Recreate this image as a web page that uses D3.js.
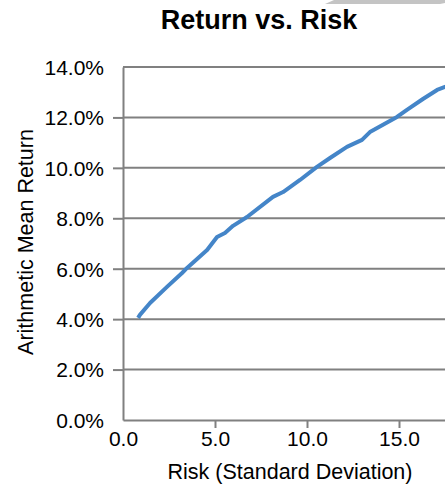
<!DOCTYPE html>
<html>
<head>
<meta charset="utf-8">
<script src="https://cdn.jsdelivr.net/npm/d3@7"></script>
<style>
html,body{margin:0;padding:0;background:#fff;overflow:hidden;}
svg{display:block;}
text{font-family:"Liberation Sans",Arial,sans-serif;fill:#000;}
</style>
</head>
<body>
<svg id="chart" width="445" height="485"></svg>
<script>
const title = "Return vs. Risk";
const xTitle = "Risk (Standard Deviation)";
const yTitle = "Arithmetic Mean Return";
const xTicks = [0, 5, 10, 15];
const yTicks = [0, 0.02, 0.04, 0.06, 0.08, 0.10, 0.12, 0.14];
const risk = [0.82, 0.92, 1.47, 2.39, 3.21, 3.48, 4.57, 5.11, 5.54, 5.98, 6.74, 8.15, 8.70, 9.62, 10.54, 11.25, 12.17, 12.99, 13.42, 14.89, 15.43, 16.30, 17.07, 17.50, 18.00];
const ret  = [0.0405, 0.0417, 0.0464, 0.0528, 0.0583, 0.0603, 0.0674, 0.0726, 0.0742, 0.0770, 0.0805, 0.0885, 0.0904, 0.0952, 0.1004, 0.1039, 0.1083, 0.1111, 0.1142, 0.1202, 0.1230, 0.1273, 0.1309, 0.1321, 0.1340];

const svg = d3.select("#chart");
const mLeft = 123, mTop = 67, mBottom = 420;
const x = d3.scaleLinear().domain([0, 20]).range([mLeft, mLeft + 18.4 * 20]);
const y = d3.scaleLinear().domain([0, 0.14]).range([mBottom, mTop]);

// decorative gray shape at top right
svg.append("polygon")
  .attr("points", "325,4 334,0 445,0 445,3 440,4")
  .attr("fill", "#c4c4c4");

// gridlines
svg.append("g").selectAll("line").data(yTicks.filter(d => d > 0)).join("line")
  .attr("x1", mLeft).attr("x2", x(20))
  .attr("y1", d => y(d)).attr("y2", d => y(d))
  .attr("stroke", "#808080").attr("stroke-width", 2);

// y axis
const yAxis = d3.axisLeft(y).tickValues(yTicks).tickFormat(d3.format(".1%")).tickSizeOuter(0).tickSizeInner(10).tickPadding(9);
const gy = svg.append("g").attr("transform", `translate(${mLeft},0)`).call(yAxis);
gy.select(".domain").attr("stroke", "#808080").attr("stroke-width", 2);
gy.selectAll(".tick line").attr("stroke", "#808080").attr("stroke-width", 2)
  .attr("display", d => (d === 0 || d === 0.14) ? "none" : null);
gy.selectAll(".tick text").style("font-size", "21px").attr("fill", "#000").attr("dy", "0.35em");

// x axis
const xAxis = d3.axisBottom(x).tickValues(xTicks).tickFormat(d3.format(".1f")).tickSizeOuter(0).tickSizeInner(8).tickPadding(3);
const gx = svg.append("g").attr("transform", `translate(0,${mBottom})`).call(xAxis);
gx.select(".domain").attr("stroke", "#808080").attr("stroke-width", 2);
gx.selectAll(".tick line").attr("stroke", "#808080").attr("stroke-width", 2)
  .attr("display", d => d === 0 ? "none" : null);
gx.selectAll(".tick text").style("font-size", "21px").attr("fill", "#000");

// line
const line = d3.line().x((d, i) => x(risk[i])).y((d, i) => y(ret[i])).curve(d3.curveLinear);
svg.append("path").datum(risk).attr("d", line)
  .attr("fill", "none").attr("stroke", "#4485c8").attr("stroke-width", 4)
  .attr("stroke-linejoin", "round");

// titles
svg.append("text").attr("x", 259).attr("y", 29).attr("text-anchor", "middle")
  .style("font-size", "27px").style("font-weight", "bold").text(title);
svg.append("text").attr("x", 290).attr("y", 479).attr("text-anchor", "middle")
  .style("font-size", "21.5px").text(xTitle);
svg.append("text").attr("transform", "translate(33,242) rotate(-90)").attr("text-anchor", "middle")
  .style("font-size", "21.5px").text(yTitle);
</script>
</body>
</html>
